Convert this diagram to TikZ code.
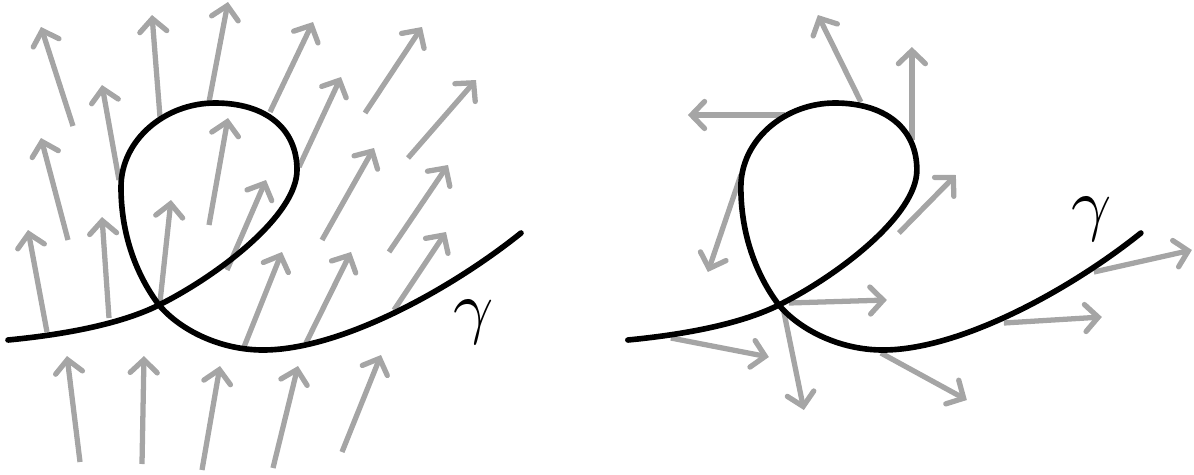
\documentclass[tikz,border=0pt]{standalone}
\usepackage{tikz}
\usetikzlibrary{arrows.meta}
\definecolor{fieldgray}{RGB}{165,165,165}
\tikzset{
  curve/.style={line width=3.2pt, line cap=round, line join=round, black},
  field/.style={line width=3pt, fieldgray, -{Straight Barb[length=2.6mm, width=5.4mm, line cap=round]}},
  gammalabel/.style={scale=4, inner sep=0pt},
}
% the loop, in pixel units
\newcommand{\loopcurve}{(8,340) .. controls (60,335) and (119,325) .. (159,305)
  .. controls (219,275) and (297,215) .. (297,170)
  .. controls (297,128) and (265,103) .. (215,103)
  .. controls (165,103) and (121,140) .. (121,187)
  .. controls (121,240) and (140,280) .. (159,305)
  .. controls (180,330) and (220,350) .. (263,350)
  .. controls (340,350) and (450,290) .. (521,233)}

\begin{document}
\begin{tikzpicture}[x=0.02cm, y=-0.02cm]
\useasboundingbox (0,0) rectangle (1194,474);

% left: a field crossing the curve
\foreach \xa/\ya/\xb/\yb in {73/126/41/27, 160/117/152/15, 209/102/228/2, 270/112/313/22, 365/113/422/27, 408/158/476/80,
  68/240/41/138, 119/180/102/85, 209/225/228/118, 299/167/341/77, 322/240/374/148, 389/252/448/165,
  47/332/28/230, 109/318/102/217, 160/302/171/200, 227/270/266/180, 244/347/282/252, 306/343/351/252, 394/310/446/232,
  80/462/67/356, 142/464/144/356, 202/470/220/366, 273/468/298/366, 342/452/381/355}
  \draw[field] (\xa,\ya) -- (\xb,\yb);
\draw[curve] \loopcurve;
\node[gammalabel] (g1) at (474,322) {$\gamma$};

% right: vectors along the curve
\begin{scope}[xshift=12.4cm]
\foreach \xa/\ya/\xb/\yb in {241/102/198/15, 292/140/292/47, 165/115/68/115, 121/175/88/272, 279/233/336/175,
  474/272/572/250, 169/303/267/300, 384/323/482/317, 51/338/149/357, 164/312/184/410, 261/353/347/400}
  \draw[field] (\xa,\ya) -- (\xb,\yb);
\draw[curve] \loopcurve;
\node[gammalabel] (g2) at (472,219) {$\gamma$};
\end{scope}
\end{tikzpicture}
\end{document}
